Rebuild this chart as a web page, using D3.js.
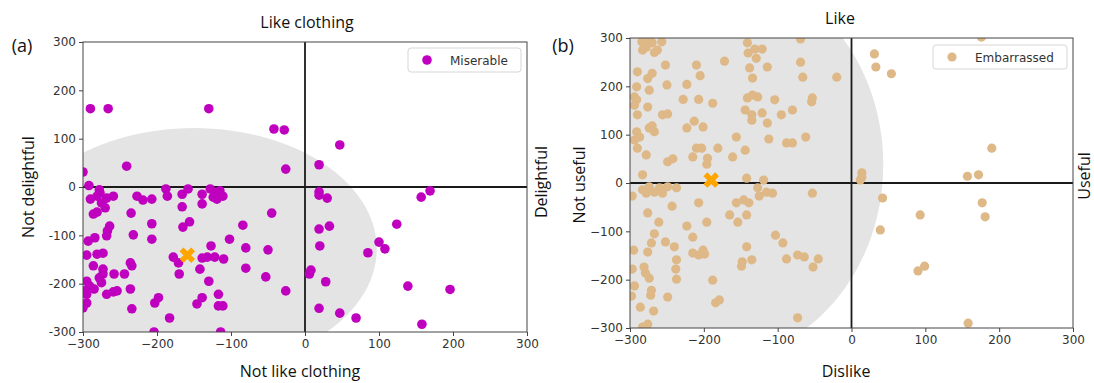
<!DOCTYPE html>
<html>
<head>
<meta charset="utf-8">
<script src="https://cdn.jsdelivr.net/npm/d3@7"></script>
<style>
  body { margin: 0; background: #fff; }
  svg { display: block; }
  .tick text { font-family: "DejaVu Sans", sans-serif; font-size: 12px; fill: #333; }
  .lab { font-family: "Open Sans", sans-serif; font-size: 16px; fill: #111; }
</style>
</head>
<body>
<svg id="chart" width="1094" height="383"></svg>
<script>
const ticks = [-300, -200, -100, 0, 100, 200, 300];

// (a) Miserable, [like clothing, delightful]
const miserable = [
  [-290, 162], [-266, 162], [-130, 162], [-42, 120], [-28, 118], [-26, 37], [-241, 43], [-300, 31], [47, 87], [19, 46],
  [-292, 3], [-278, -6], [19, -10], [19, -17], [30, -23], [169, -8], [157, -21],
  [-290, -25], [-281, -19], [-277, -12], [-268, -23], [-259, -19], [-275, -33], [-270, -43], [-286, -56], [-281, -52],
  [-227, -19], [-219, -27], [-207, -25], [-188, -4], [-186, -19], [-166, -15], [-158, -4], [-166, -41], [-139, -15],
  [-139, -35], [-128, -4], [-122, -12], [-115, -8], [-111, -19], [-119, -25], [-124, -21],
  [-235, -54], [-207, -76], [-264, -81], [-267, -91], [-268, -101], [-284, -105], [-293, -112], [-232, -99], [-207, -108],
  [-165, -83], [-156, -72], [-84, -79], [-45, -54],
  [-295, -141], [-281, -139], [-273, -137], [-286, -163], [-273, -170], [-273, -180], [-278, -188], [-275, -198],
  [-295, -195], [-291, -205], [-285, -211], [-295, -222], [-295, -240], [-268, -222], [-259, -217], [-254, -215],
  [-258, -180], [-244, -180], [-236, -211], [-236, -157], [-234, -163], [-234, -252], [-203, -240], [-198, -229],
  [-183, -271], [-178, -145], [-171, -157], [-170, -180], [-142, -170], [-130, -195], [-139, -147], [-132, -145],
  [-127, -122], [-122, -145], [-110, -149], [-102, -108], [-117, -222], [-117, -246], [-111, -246], [-146, -242],
  [-139, -229], [-80, -126], [-80, -168], [-53, -186], [-50, -130], [-26, -215], [-114, -300], [-204, -300],
  [-299, -215], [-300, -250],
  [19, -87], [33, -81], [124, -77], [20, -122], [100, -114], [108, -128], [85, -136], [8, -172], [6, -180],
  [28, -196], [139, -205], [196, -212], [19, -251], [47, -261], [69, -271], [158, -284]
];

// (b) Embarrassed, [like, useful]
const embarrassed = [
  [-284, 292], [-278, 281], [-270, 290], [-263, 275], [-267, 270], [-283, 275], [-257, 292], [-274, 298],
  [-252, 244], [-290, 230], [-270, 227], [-276, 216], [-291, 199], [-274, 192], [-294, 178], [-291, 172], [-294, 161],
  [-276, 157], [-290, 141], [-256, 141], [-249, 143], [-291, 106], [-287, 95], [-294, 89], [-274, 114], [-267, 106],
  [-270, 118], [-290, 72], [-278, 58], [-249, 44], [-242, 50], [-283, 17], [-250, 203],
  [-210, 244], [-205, 222], [-223, 204], [-228, 173], [-207, 173], [-188, 165], [-223, 114], [-213, 128], [-201, 116],
  [-210, 72], [-203, 72], [-215, 54], [-195, 51], [-196, 39], [-181, 72], [-172, 252], [-161, 54], [-156, 95],
  [-144, 68], [-142, 10], [-141, 290], [-140, 269], [-131, 277], [-129, 258], [-121, 277], [-138, 238], [-134, 217],
  [-141, 176], [-134, 182], [-127, 178], [-144, 151], [-135, 141], [-135, 130], [-121, 145], [-114, 124], [-112, 91],
  [-114, 240], [-104, 172], [-95, 141], [-80, 151], [-88, 83], [-80, 83], [-62, 95], [-69, 298], [-69, 250],
  [-66, 219], [-53, 176], [-54, 168], [-20, 219], [-119, 6],
  [-297, -27], [-283, -14], [-274, -8], [-267, -19], [-260, -10], [-256, -21], [-249, -8], [-237, -10], [-278, -21],
  [-243, -48], [-207, -41], [-196, -81], [-276, -62], [-261, -81], [-223, -89], [-165, -66], [-154, -81], [-142, -66],
  [-156, -41], [-146, -35], [-139, -41], [-125, -27], [-127, -10], [-115, -19], [-107, -21], [-53, -21],
  [-267, -105], [-271, -124], [-276, -143], [-252, -122], [-240, -132], [-215, -112], [-215, -145], [-207, -149],
  [-201, -139], [-199, -147], [-237, -159], [-295, -139], [-297, -178], [-281, -174], [-279, -186], [-274, -197],
  [-238, -178], [-237, -199], [-294, -213], [-298, -234], [-271, -222], [-272, -232], [-286, -257], [-268, -265],
  [-249, -236], [-188, -201], [-184, -248], [-179, -242], [-276, -292], [-283, -298], [-142, -132], [-135, -159],
  [-148, -163], [-149, -172], [-103, -108], [-93, -124], [-88, -157], [-73, -149], [-64, -153], [-45, -157],
  [-52, -174], [-73, -279],
  [42, -31], [39, -97], [93, -66], [177, -41], [181, -70], [90, -182], [99, -172], [158, -290], [12, 6],
  [176, 302], [31, 267], [33, 240], [54, 226], [190, 72], [14, 21], [14, 12], [157, 14], [172, 17]
];

// mean point and the shaded ellipse [cx, cy, rx, ry] in data units
const centerA = [-159, -141];
const centerB = [-190, 6];
const ellipseA = [-150, -128, 247, 250];
const ellipseB = [-190, 38, 233, 406];

const svg = d3.select("#chart");

function drawPanel(p) {
  const x = d3.scaleLinear().domain([-300, 300]).range(p.xr);
  const y = d3.scaleLinear().domain([-300, 300]).range(p.yr);
  const g = svg.append("g");

  g.append("clipPath").attr("id", p.id)
    .append("rect")
    .attr("x", p.xr[0]).attr("y", p.yr[1])
    .attr("width", p.xr[1] - p.xr[0]).attr("height", p.yr[0] - p.yr[1]);

  const plot = g.append("g").attr("clip-path", `url(#${p.id})`);

  // shaded ellipse
  const e = p.ellipse;
  const ring = d3.range(0, 361, 3).map(a => {
    const t = a * Math.PI / 180;
    return [e[0] + e[2] * Math.cos(t), e[1] + e[3] * Math.sin(t)];
  });
  plot.append("path")
    .attr("d", d3.line().x(d => x(d[0])).y(d => y(d[1]))(ring))
    .attr("fill", "#e4e4e4");

  // zero lines
  plot.append("line")
    .attr("x1", x(-300)).attr("x2", x(300)).attr("y1", y(0)).attr("y2", y(0))
    .attr("stroke", "#1a1a1a").attr("stroke-width", 1.8);
  plot.append("line")
    .attr("x1", x(0)).attr("x2", x(0)).attr("y1", y(-300)).attr("y2", y(300))
    .attr("stroke", "#1a1a1a").attr("stroke-width", 1.8);

  plot.append("g").selectAll("circle")
    .data(p.points)
    .join("circle")
    .attr("cx", d => x(d[0]))
    .attr("cy", d => y(d[1]))
    .attr("r", p.r)
    .attr("fill", p.color);

  plot.append("path")
    .attr("d", d3.symbol(d3.symbolCross, 150)())
    .attr("transform", `translate(${x(p.center[0])},${y(p.center[1])}) rotate(45)`)
    .attr("fill", "#ffa500");

  // frame
  g.append("rect")
    .attr("x", p.xr[0]).attr("y", p.yr[1])
    .attr("width", p.xr[1] - p.xr[0]).attr("height", p.yr[0] - p.yr[1])
    .attr("fill", "none").attr("stroke", "#444").attr("stroke-width", 1);

  const minus = v => (v < 0 ? "\u2212" + Math.abs(v) : String(v));
  const xAxis = g.append("g")
    .attr("transform", `translate(0,${p.yr[0]})`)
    .call(d3.axisBottom(x).tickValues(ticks).tickSize(4).tickPadding(3).tickFormat(minus));
  const yAxis = g.append("g")
    .attr("transform", `translate(${p.xr[0]},0)`)
    .call(d3.axisLeft(y).tickValues(ticks).tickSize(4).tickPadding(3).tickFormat(p.yFormat || minus));
  [xAxis, yAxis].forEach(a => {
    a.select(".domain").remove();
    a.selectAll(".tick line").attr("stroke", "#444");
  });

  // legend
  const L = p.legend;
  g.append("rect")
    .attr("x", L.x).attr("y", L.y).attr("width", L.w).attr("height", 24)
    .attr("rx", 3).attr("fill", "#fff").attr("fill-opacity", 0.85)
    .attr("stroke", "#d6d6d6");
  g.append("circle")
    .attr("cx", L.x + 19).attr("cy", L.y + 12).attr("r", p.r).attr("fill", p.color);
  g.append("text")
    .attr("x", L.x + 42).attr("y", L.y + 16.5)
    .style("font-family", "DejaVu Sans, sans-serif").style("font-size", "12px").style("fill", "#333")
    .text(L.label);

  // labels
  p.labels.forEach(l => {
    const t = svg.append("text").attr("class", "lab")
      .attr("text-anchor", "middle")
      .attr("transform", `translate(${l.x},${l.y})` + (l.rot ? " rotate(-90)" : ""))
      .text(l.text);
    if (l.size) t.style("font-size", l.size + "px");
  });
}

drawPanel({
  id: "clipA", xr: [83, 527], yr: [332, 42], points: miserable, color: "#bf00bf", r: 4.8,
  center: centerA, ellipse: ellipseA,
  yFormat: v => String(v),
  legend: { x: 408, y: 48, w: 113, label: "Miserable" },
  labels: [
    { text: "Like clothing", x: 307, y: 28 },
    { text: "Not like clothing", x: 300, y: 377 },
    { text: "Not delightful", x: 34, y: 187, rot: true },
    { text: "Delightful", x: 547, y: 182, rot: true },
    { text: "(a)", x: 22, y: 52, size: 18 }
  ]
});

drawPanel({
  id: "clipB", xr: [630, 1073], yr: [328, 38], points: embarrassed, color: "#deb887", r: 4.6,
  center: centerB, ellipse: ellipseB,
  legend: { x: 933, y: 45, w: 134, label: "Embarrassed" },
  labels: [
    { text: "Like", x: 840, y: 24 },
    { text: "Dislike", x: 846, y: 377 },
    { text: "Not useful", x: 585, y: 185, rot: true },
    { text: "Useful", x: 1090, y: 176, rot: true },
    { text: "(b)", x: 563, y: 52, size: 18 }
  ]
});
</script>
</body>
</html>
